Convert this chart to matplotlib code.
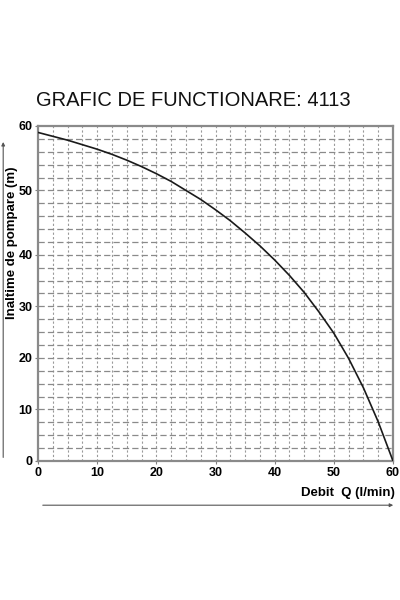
import matplotlib
matplotlib.use("Agg")
import matplotlib.pyplot as plt
import matplotlib.patches as mpatches
import numpy as np

plt.rcParams['font.family'] = ['Liberation Sans', 'DejaVu Sans']

flow = [0, 2.5, 5, 7.5, 10, 12.5, 15, 17.5, 20, 22.5, 25, 27.5, 30, 32.5, 35, 37.5,
        40, 42.5, 45, 47.5, 50, 52.5, 55, 57.5, 60]
head = [59.0, 58.4, 57.8, 57.1, 56.4, 55.6, 54.7, 53.7, 52.6, 51.4, 50.0, 48.6, 47.0, 45.3, 43.4, 41.4,
        39.0, 36.0, 32.7, 28.9, 24.8, 19.9, 14.2, 7.6, 0]
xticks = [0, 10, 20, 30, 40, 50, 60]
yticks = [0, 10, 20, 30, 40, 50, 60]
title = "GRAFIC DE FUNCTIONARE: 4113"
xlabel = "Debit  Q (l/min)"
ylabel = "Inaltime de pompare (m)"

# the printed chart's vertical axis is stretched above 40 m (10 m spans 5 grid rows there)
def fwd(v):
    v = np.asarray(v, dtype=float)
    return np.where(v <= 40, v, 40 + (v - 40) * 1.25)

def inv(r):
    r = np.asarray(r, dtype=float)
    return np.where(r <= 40, r, 40 + (r - 40) / 1.25)

fig = plt.figure(figsize=(4, 6), dpi=100)
ax = fig.add_axes([0.095, 0.2317, 0.8875, 0.5583])
ax.set_yscale('function', functions=(fwd, inv))
ax.set_xlim(0, 60)
ax.set_ylim(0, 60)

# grid: vertical lines every 2.5 l/min, horizontal lines every grid row
for v in np.arange(2.5, 60, 2.5):
    ax.axvline(v, color='#9a9a9a', lw=0.8, ls=(0, (2, 2)), zorder=1)
hrows = np.arange(2.5, 65, 2.5)
for r in hrows:
    ax.axhline(float(inv(r)), color='#8a8a8a', lw=0.9, ls=(0, (5, 2.5)), zorder=1)

ax.plot(flow, head, color='#1a1a1a', lw=1.2, zorder=3, solid_joinstyle='round')

ax.set_xticks(xticks)
ax.set_yticks(yticks)
ax.set_xticklabels([str(t) for t in xticks])
ax.set_yticklabels([str(t) for t in yticks])
ax.minorticks_off()
ax.tick_params(axis='both', labelsize=9, length=2.5, width=0.8, color='#808080', pad=1.5)
for lab in ax.get_xticklabels() + ax.get_yticklabels():
    lab.set_fontweight('bold')
for s in ax.spines.values():
    s.set_color('#8a8a8a')
    s.set_linewidth(1.6)

fig.text(0.09, 0.833, title, fontsize=14.5, ha='left', va='center', color='#111111')
fig.text(0.03, 0.595, ylabel, fontsize=9.5, fontweight='bold', rotation=90, ha='center', va='center')
fig.text(0.9875, 0.179, xlabel, fontsize=9.5, fontweight='bold', ha='right', va='center')

# arrows
fig.patches.append(mpatches.FancyArrowPatch((0.1, 0.158), (0.99, 0.158), transform=fig.transFigure,
                   arrowstyle='-|>', mutation_scale=5, color='#555555', lw=0.8))
fig.patches.append(mpatches.FancyArrowPatch((0.008, 0.233), (0.008, 0.768), transform=fig.transFigure,
                   arrowstyle='-|>', mutation_scale=5, color='#555555', lw=0.8))

fig.savefig("out.png", dpi=100)
